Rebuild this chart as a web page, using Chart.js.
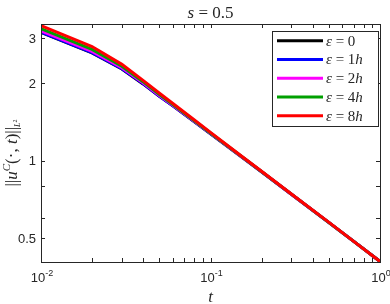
<!DOCTYPE html>
<html>
<head>
<meta charset="utf-8">
<script src="https://cdn.jsdelivr.net/npm/chart.js@4"></script>
<style>
  html, body { margin: 0; padding: 0; background: #fff; }
  #wrap { width: 390px; height: 304px; position: relative; }
</style>
</head>
<body>
<div id="wrap"><canvas id="chart"></canvas></div>
<script>
// time samples and curve values
const times = [0.01, 0.02, 0.03, 0.04, 0.05, 0.06, 0.08, 0.1, 0.15, 0.2, 0.3, 0.5, 0.7, 1.0];
const eps0 = [3.155, 2.625, 2.275, 1.99, 1.78, 1.636, 1.422, 1.275, 1.045, 0.908, 0.742, 0.576, 0.487, 0.407];
const eps1h = [3.16, 2.63, 2.28, 1.995, 1.783, 1.638, 1.424, 1.276, 1.046, 0.908, 0.742, 0.576, 0.487, 0.407];
const eps2h = [3.2, 2.66, 2.3, 2.01, 1.793, 1.645, 1.428, 1.279, 1.047, 0.909, 0.742, 0.576, 0.487, 0.407];
const eps4h = [3.26, 2.71, 2.33, 2.03, 1.808, 1.655, 1.435, 1.283, 1.049, 0.91, 0.743, 0.576, 0.487, 0.407];
const eps8h = [3.35, 2.78, 2.37, 2.055, 1.83, 1.67, 1.445, 1.29, 1.052, 0.912, 0.744, 0.577, 0.487, 0.407];
const seriesNames = ['0', '1', '2', '4', '8'];
const seriesColors = ['#000000', '#0000ff', '#ff00ff', '#00a000', '#ff0000'];
const xMajorTicks = [0.01, 0.1, 1];
const xMajorExp = ['-2', '-1', '0'];
const yTicks = [0.5, 0.6, 0.8, 1, 2, 3];
const yTickLabels = ['0.5', '', '', '1', '2', '3'];

const ink = '#262626';
const serif = '"Liberation Serif", "DejaVu Serif", serif';
const sans = '"Liberation Sans", Arial, sans-serif';

// draw a run of text pieces: {t, it, size, dy}
function richWidth(ctx, parts) {
  let w = 0;
  parts.forEach((p) => {
    ctx.font = `${p.it ? 'italic ' : ''}${p.size}px ${p.fam || serif}`;
    w += ctx.measureText(p.t).width;
  });
  return w;
}
function drawRich(ctx, parts, x, y, align) {
  let cx = x;
  if (align === 'center') cx -= richWidth(ctx, parts) / 2;
  ctx.textAlign = 'left';
  ctx.textBaseline = 'alphabetic';
  parts.forEach((p) => {
    ctx.font = `${p.it ? 'italic ' : ''}${p.size}px ${p.fam || serif}`;
    ctx.fillText(p.t, cx, y + (p.dy || 0));
    cx += ctx.measureText(p.t).width;
  });
}

const frame = {
  id: 'frame',
  afterDraw(chart) {
    const { ctx, chartArea: a, scales } = chart;
    const xs = scales.x, ys = scales.y;
    ctx.save();
    ctx.strokeStyle = ink;
    ctx.fillStyle = ink;
    ctx.lineWidth = 1;
    ctx.strokeRect(Math.round(a.left) + 0.5, Math.round(a.top) + 0.5, Math.round(a.right - a.left), Math.round(a.bottom - a.top));

    // x ticks (inside, bottom and top)
    const tick = 4;
    ctx.beginPath();
    for (let d = -2; d < 0; d++) {
      for (let m = 1; m < 10; m++) {
        const px = Math.round(xs.getPixelForValue(m * Math.pow(10, d))) + 0.5;
        ctx.moveTo(px, a.bottom); ctx.lineTo(px, a.bottom - tick);
        ctx.moveTo(px, a.top); ctx.lineTo(px, a.top + tick);
      }
    }
    yTicks.forEach((v) => {
      const py = Math.round(ys.getPixelForValue(v)) + 0.5;
      ctx.moveTo(a.left, py); ctx.lineTo(a.left + tick, py);
      ctx.moveTo(a.right, py); ctx.lineTo(a.right - tick, py);
    });
    ctx.stroke();

    // x tick labels 10^n
    xMajorTicks.forEach((v, i) => {
      const px = xs.getPixelForValue(v);
      drawRich(ctx, [
        { t: '10', size: 13, fam: sans },
        { t: xMajorExp[i], size: 9, fam: sans, dy: -6 }
      ], px + 1, a.bottom + 20, 'center');
    });

    // y tick labels
    ctx.font = `13px ${sans}`;
    ctx.textAlign = 'right';
    ctx.textBaseline = 'middle';
    yTicks.forEach((v, i) => {
      if (yTickLabels[i]) ctx.fillText(yTickLabels[i], a.left - 5, ys.getPixelForValue(v) + 1);
    });

    // title and axis labels
    drawRich(ctx, [
      { t: 's', it: true, size: 17 },
      { t: ' = 0.5', size: 17 }
    ], (a.left + a.right) / 2, 18, 'center');
    drawRich(ctx, [{ t: 't', it: true, size: 17 }], (a.left + a.right) / 2, 302, 'center');

    ctx.save();
    ctx.translate(17, 153);
    ctx.rotate(-Math.PI / 2);
    drawRich(ctx, [
      { t: '||', size: 17 },
      { t: 'u', it: true, size: 17 },
      { t: 'C', it: true, size: 11, dy: -7 },
      { t: '(\u00b7, ', size: 17 },
      { t: 't', it: true, size: 17 },
      { t: ')||', size: 17 },
      { t: 'L', it: true, size: 8, dy: 3 },
      { t: '2', size: 6, dy: 0 }
    ], 0, 0, 'center');
    ctx.restore();

    // legend
    const lx = 272, ly = 31, lw = 106, lh = 95;
    ctx.fillStyle = '#fff';
    ctx.fillRect(lx, ly, lw, lh);
    ctx.strokeStyle = ink;
    ctx.strokeRect(lx + 0.5, ly + 0.5, lw, lh);
    chart.data.datasets.forEach((ds, i) => {
      const y = 40.7 + i * 18.75;
      ctx.strokeStyle = ds.borderColor;
      ctx.lineWidth = 3;
      ctx.beginPath();
      ctx.moveTo(277, y); ctx.lineTo(323, y);
      ctx.stroke();
      ctx.fillStyle = ink;
      const parts = [{ t: '\u03b5', it: true, size: 15 }, { t: ' = ' + seriesNames[i], size: 15 }];
      if (seriesNames[i] !== '0') parts.push({ t: 'h', it: true, size: 15 });
      drawRich(ctx, parts, 326, y + 5, 'left');
    });
    ctx.restore();
  }
};

const seriesData = [eps0, eps1h, eps2h, eps4h, eps8h];
new Chart(document.getElementById('chart'), {
  type: 'line',
  data: {
    datasets: seriesData.map((vals, i) => ({
      label: '\u03b5 = ' + seriesNames[i],
      data: times.map((t, k) => ({ x: t, y: vals[k] })),
      borderColor: seriesColors[i],
      borderWidth: 3,
      pointRadius: 0,
      tension: 0,
      fill: false,
      order: seriesData.length - i // last series (red) ends up on top
    }))
  },
  options: {
    responsive: true,
    maintainAspectRatio: false,
    animation: false,
    layout: { padding: { left: 41, top: 24, right: 10, bottom: 42 } },
    plugins: { legend: { display: false }, tooltip: { enabled: false } },
    scales: {
      x: { type: 'logarithmic', min: 0.01, max: 1, display: false },
      y: { type: 'logarithmic', min: 0.405, max: 3.4, display: false }
    }
  },
  plugins: [frame]
});
</script>
</body>
</html>
